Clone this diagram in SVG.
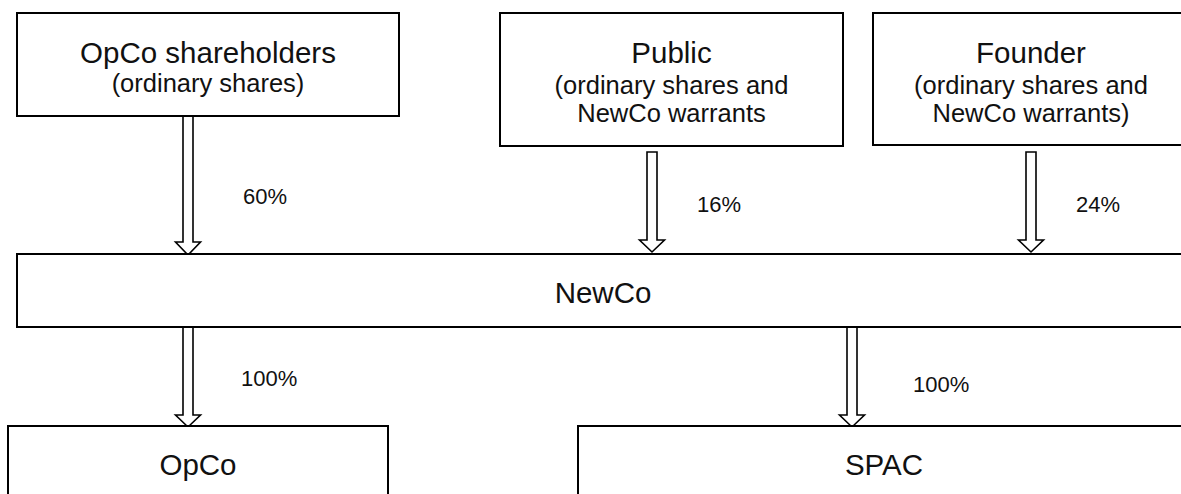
<svg xmlns="http://www.w3.org/2000/svg" width="1181" height="494" viewBox="0 0 1181 494">
<style>
.box{fill:#fff;stroke:#000;stroke-width:2}
.arr{fill:#fff;stroke:#000;stroke-width:1.6;stroke-linejoin:miter}
text{font-family:"Liberation Sans",Arial,sans-serif;fill:#111;text-anchor:middle}
.t{font-size:29.5px}
.s{font-size:25.5px}
.p{font-size:22px;text-anchor:start}
</style>
<rect width="1181" height="494" fill="#fff"/>
<g id="connectors">
<polygon class="arr" points="183,116 193,116 193,242 200.5,242 188,255 175.5,242 183,242"/>
<polygon class="arr" points="647,152 657,152 657,240 664.5,240 652,252 639.5,240 647,240"/>
<polygon class="arr" points="1026,152 1036,152 1036,240 1043.5,240 1031,252 1018.5,240 1026,240"/>
<polygon class="arr" points="183,327 193,327 193,415 200.5,415 188,427 175.5,415 183,415"/>
<polygon class="arr" points="847,327 857,327 857,415 864.5,415 852,427 839.5,415 847,415"/>
<text class="p" x="243" y="204">60%</text>
<text class="p" x="697" y="212">16%</text>
<text class="p" x="1076" y="212">24%</text>
<text class="p" x="241" y="386">100%</text>
<text class="p" x="913" y="392">100%</text>
</g>
<g id="opco-shareholders">
<rect class="box" x="17" y="13" width="382" height="103"/>
<text class="t" x="208" y="63">OpCo shareholders</text>
<text class="s" x="208" y="92">(ordinary shares)</text>
</g>
<g id="public">
<rect class="box" x="500" y="13" width="343" height="133"/>
<text class="t" x="671.5" y="63">Public</text>
<text class="s" x="671.5" y="94">(ordinary shares and</text>
<text class="s" x="671.5" y="122">NewCo warrants</text>
</g>
<g id="founder">
<rect class="box" x="873" y="13" width="316" height="132"/>
<text class="t" x="1031" y="63">Founder</text>
<text class="s" x="1031" y="94">(ordinary shares and</text>
<text class="s" x="1031" y="122">NewCo warrants)</text>
</g>
<g id="newco">
<rect class="box" x="17" y="254" width="1172" height="73"/>
<text class="t" x="603" y="303">NewCo</text>
</g>
<g id="opco">
<rect class="box" x="8" y="426" width="380" height="80"/>
<text class="t" x="198" y="475">OpCo</text>
</g>
<g id="spac">
<rect class="box" x="578" y="426" width="612" height="80"/>
<text class="t" x="884" y="475">SPAC</text>
</g>
</svg>
